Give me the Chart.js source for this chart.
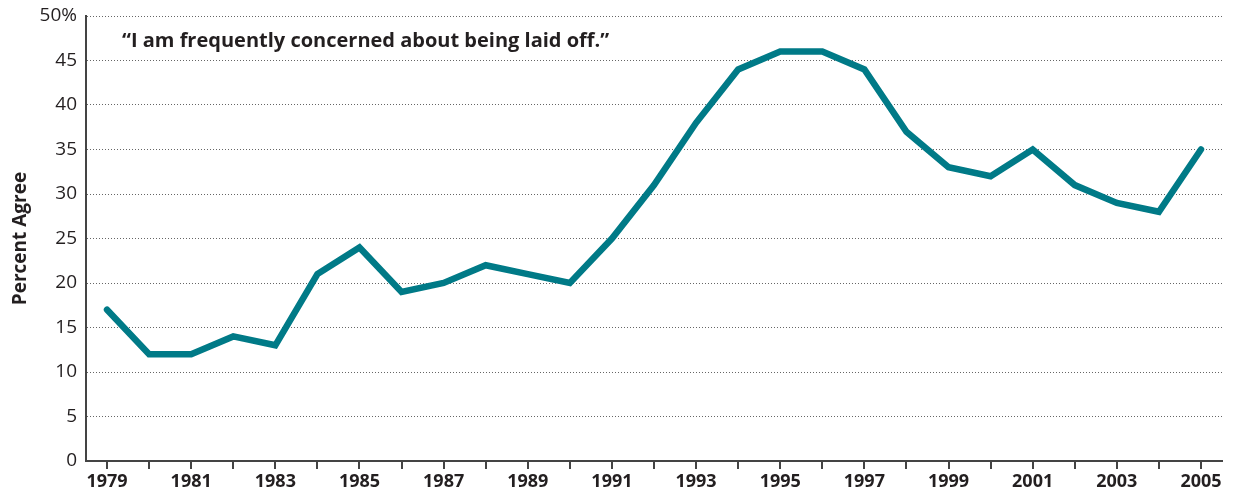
<!DOCTYPE html>
<html>
<head>
<meta charset="utf-8">
<script src="https://cdn.jsdelivr.net/npm/chart.js@4/dist/chart.umd.min.js"></script>
<style>
  html, body { margin: 0; padding: 0; background: #fff; }
  #wrap { width: 1235px; height: 498px; }
</style>
</head>
<body>
<div id="wrap"><canvas id="myChart"></canvas></div>
<script>
const years = ['1979', '1980', '1981', '1982', '1983', '1984', '1985', '1986', '1987',
    '1988', '1989', '1990', '1991', '1992', '1993', '1994', '1995', '1996', '1997',
    '1998', '1999', '2000', '2001', '2002', '2003', '2004', '2005'];
const percentAgree = [17, 12, 12, 14, 13, 21, 24, 19, 20, 22, 21, 20, 25, 31, 38, 44,
    46, 46, 44, 37, 33, 32, 35, 31, 29, 28, 35];
const quote = '\u201CI am frequently concerned about being laid off.\u201D';
const yTicks = [0, 5, 10, 15, 20, 25, 30, 35, 40, 45, 50];

const fontFamily = '"Open Sans", "Noto Sans", sans-serif';
const textColor = '#231f20';

// draws the quote inside the plot area, top left
const quotePlugin = {
    id: 'quote',
    afterDraw(chart) {
        const ctx = chart.ctx;
        const area = chart.chartArea;
        ctx.save();
        ctx.font = 'bold 20px ' + fontFamily;
        ctx.fillStyle = textColor;
        ctx.textBaseline = 'middle';
        ctx.fillText(quote, area.left + 36, area.top + 25);
        ctx.restore();
    }
};

const ctx = document.getElementById('myChart').getContext('2d');
window.myChart = new Chart(ctx, {
    type: 'line',
    data: {
        labels: years,
        datasets: [{
            label: 'Percent Agree',
            data: percentAgree,
            borderColor: '#007a87',
            borderWidth: 6.5,
            borderCapStyle: 'round',
            borderJoinStyle: 'miter',
            pointRadius: 0,
            tension: 0,
            fill: false
        }]
    },
    options: {
        responsive: true,
        maintainAspectRatio: false,
        animation: false,
        layout: { padding: { left: 0, right: 13, top: 16, bottom: 0 } },
        plugins: {
            legend: { display: false },
            tooltip: { enabled: false }
        },
        scales: {
            x: {
                offset: true,
                grid: {
                    offset: false,
                    drawOnChartArea: false,
                    drawTicks: true,
                    tickLength: 8,
                    color: '#444',
                    lineWidth: 2
                },
                border: { display: true, color: '#444', width: 2 },
                ticks: {
                    autoSkip: false,
                    maxRotation: 0,
                    padding: 2,
                    color: textColor,
                    font: { family: fontFamily, size: 18, weight: 'bold' },
                    callback: function(value, index) {
                        return index % 2 === 0 ? years[index] : '';
                    }
                },
                afterFit: function(scale) { scale.height = 37; }
            },
            y: {
                min: 0,
                max: 50,
                afterBuildTicks: function(scale) {
                    scale.ticks = yTicks.map(v => ({ value: v }));
                },
                grid: {
                    drawTicks: false,
                    color: function(c) { return c.tick.value === 0 ? 'rgba(0,0,0,0)' : '#666'; },
                    lineWidth: 1
                },
                border: { display: true, color: '#444', width: 2, dash: [1, 2] },
                ticks: {
                    padding: 9,
                    color: textColor,
                    font: { family: fontFamily, size: 19 },
                    callback: function(value) { return value === 50 ? '50%' : value; }
                },
                title: {
                    display: true,
                    text: 'Percent Agree',
                    color: textColor,
                    font: { family: fontFamily, size: 19, weight: 'bold' },
                    padding: { top: 9, bottom: 0 }
                },
                afterFit: function(scale) {
                    scale.width = 86;
                    scale.paddingTop = 0;
                }
            }
        }
    },
    plugins: [quotePlugin]
});
</script>
</body>
</html>
